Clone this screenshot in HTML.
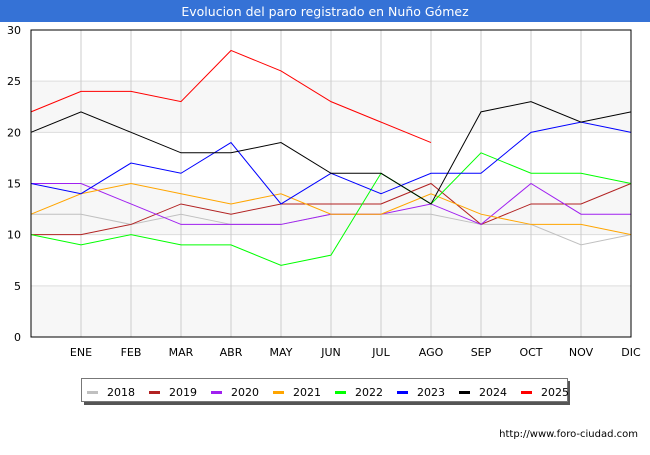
<!DOCTYPE html>
<html><head><meta charset="utf-8"><style>
body{margin:0;background:#fff;font-family:"Liberation Sans","DejaVu Sans",sans-serif}
svg text{font-family:"DejaVu Sans","Liberation Sans",sans-serif}
</style></head><body>
<svg id="c" width="650" height="450" xmlns="http://www.w3.org/2000/svg">
<rect x="0" y="0" width="650" height="22" fill="#3572d6"/>
<text x="325" y="16" text-anchor="middle" font-size="12.5" fill="#fff">Evolucion del paro registrado en Nuño Gómez</text>
<g id="plot"></g>
<text x="638" y="437" text-anchor="end" font-size="10" fill="#000">http://www.foro-ciudad.com</text>
</svg>
<script>
const categories=["","ENE","FEB","MAR","ABR","MAY","JUN","JUL","AGO","SEP","OCT","NOV","DIC"];
const yTicks=[0,5,10,15,20,25,30];
const years=["2018","2019","2020","2021","2022","2023","2024","2025"];
const colors=["#c0c0c0","#b22222","#a020f0","#ffa500","#00ff00","#0000ff","#000000","#ff0000"];
const s2018=[12,12,11,12,11,11,12,12,12,11,11,9,10];
const s2019=[10,10,11,13,12,13,13,13,15,11,13,13,15];
const s2020=[15,15,13,11,11,11,12,12,13,11,15,12,12];
const s2021=[12,14,15,14,13,14,12,12,14,12,11,11,10];
const s2022=[10,9,10,9,9,7,8,16,13,18,16,16,15];
const s2023=[15,14,17,16,19,13,16,14,16,16,20,21,20];
const s2024=[20,22,20,18,18,19,16,16,13,22,23,21,22];
const s2025=[22,24,24,23,28,26,23,21,19];
const series=[s2018,s2019,s2020,s2021,s2022,s2023,s2024,s2025];
const NS="http://www.w3.org/2000/svg";
const X0=31,X1=631,Y0=337,Y1=30,YMAX=30;
const xs=i=>X0+i*(X1-X0)/(categories.length-1);
const ys=v=>Y0-v*(Y0-Y1)/YMAX;
const g=document.getElementById('plot');
function mk(t,a,p){const e=document.createElementNS(NS,t);for(const k in a)e.setAttribute(k,a[k]);(p||g).appendChild(e);return e;}
for(let i=0;i<yTicks.length-1;i+=2){
 const r=mk('rect',{x:X0,y:ys(yTicks[i+1]),width:X1-X0,height:ys(yTicks[i])-ys(yTicks[i+1]),fill:'#f7f7f7'});
 
 
}
yTicks.forEach(v=>{
 const l=mk('line',{x1:X0,x2:X1,y1:ys(v),y2:ys(v),stroke:'#ddd','stroke-width':1});
 
 
 const t=mk('text',{x:X0-10,y:ys(v)+4,'text-anchor':'end','font-size':11});
 t.textContent=v;
 
 
});
categories.forEach((c,i)=>{
 const l=mk('line',{x1:xs(i),x2:xs(i),y1:Y1,y2:Y0,stroke:'#ccc','stroke-width':1});
 
 
 const t=mk('text',{x:xs(i),y:356,'text-anchor':'middle','font-size':11});
 t.textContent=c;
 
 
});
series.forEach((s,k)=>{
 const p=mk('polyline',{points:s.map((v,i)=>xs(i)+','+ys(v)).join(' '),fill:'none',stroke:colors[k],'stroke-width':1});
 
 
});
const fr=mk('rect',{x:X0,y:Y1,width:X1-X0,height:Y0-Y1,fill:'none',stroke:'#000','stroke-width':1});


const sh=mk('rect',{x:84,y:381,width:486,height:24,fill:'#555'});


const lg=mk('rect',{x:81.5,y:378.5,width:486,height:23,fill:'#fff',stroke:'#777','stroke-width':1});


years.forEach((y,k)=>{
 const x=87+k*62;
 const sw=mk('rect',{x:x,y:391,width:11,height:3,fill:colors[k]});
 
 
 const t=mk('text',{x:x+20,y:396,'font-size':11});
 t.textContent=y;
 
 
});
</script>
</body></html>
